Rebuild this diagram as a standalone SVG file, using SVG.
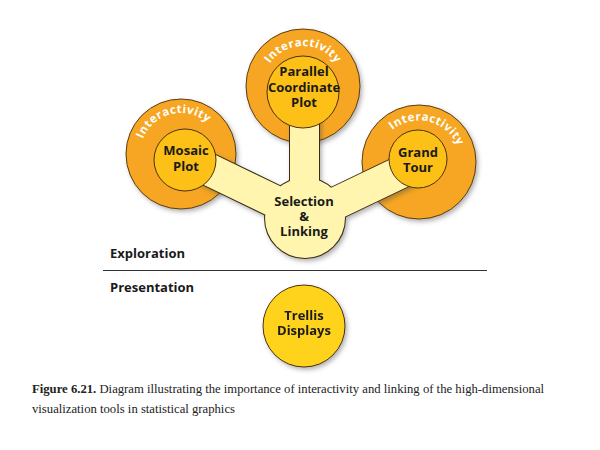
<svg xmlns="http://www.w3.org/2000/svg" width="600" height="450" viewBox="0 0 600 450">
<defs>
<style>
.ring{fill:#F6A623;stroke:#5a3d12;stroke-width:1}
.inner{fill:#FCC016;stroke:#4a3210;stroke-width:1}
.trellis{fill:#FFD21C;stroke:#4a3210;stroke-width:1}
.link-s{fill:#FFF5AE;stroke:#3b2c14;stroke-width:2}
.link-f{fill:#FFF5AE;stroke:none}
.lbl{font-family:"Open Sans","Noto Sans",sans-serif;font-weight:700;font-size:13px;fill:#1a1a1a;text-anchor:middle}
.inter{font-family:"Open Sans","Noto Sans",sans-serif;font-weight:700;font-size:11.5px;fill:#ffffff;letter-spacing:0.5px}
.sec{font-family:"Open Sans","Noto Sans",sans-serif;font-weight:700;font-size:13px;fill:#1a1a1a}
.cap{font-family:"Liberation Serif","Times New Roman",serif;font-size:12.7px;fill:#222}
</style>
<filter id="sh" x="-20%" y="-20%" width="150%" height="150%">
<feDropShadow dx="2" dy="2.5" stdDeviation="2" flood-color="#444" flood-opacity="0.4"/>
</filter>
<path id="arcTop" d="M 263 86 A 40 40 0 0 1 343 86"/>
<path id="arcLeft" d="M 141.2 163.9 A 41 41 0 0 1 220.8 144.1"/>
<path id="arcRight" d="M 378.25 151.84 A 42 42 0 0 1 459.75 172.16"/>
</defs>
<rect width="600" height="450" fill="#ffffff"/>

<g id="ring-parallel" filter="url(#sh)">
<circle class="ring" cx="303" cy="86" r="57"/>
</g>
<g id="ring-mosaic" filter="url(#sh)">
<circle class="ring" cx="181" cy="154" r="55"/>
</g>
<g id="ring-grandtour" filter="url(#sh)">
<circle class="ring" cx="419" cy="162" r="57"/>
</g>
<g id="ring-labels">
<text class="inter"><textPath href="#arcTop" startOffset="50%" text-anchor="middle">Interactivity</textPath></text>
<text class="inter"><textPath href="#arcLeft" startOffset="50%" text-anchor="middle">Interactivity</textPath></text>
<text class="inter"><textPath href="#arcRight" startOffset="50%" text-anchor="middle">Interactivity</textPath></text>
</g>

<g id="connectors" filter="url(#sh)">
<polygon class="link-s" points="192,143.6 312,201.6 298,230.4 178,172.4"/>
<polygon class="link-s" points="411.1,149.6 298.1,203.6 311.9,232.4 424.9,178.4"/>
<rect class="link-s" x="290" y="100" width="29" height="115"/>
<circle class="link-s" cx="305" cy="218" r="40"/>
<polygon class="link-f" points="192,143.6 312,201.6 298,230.4 178,172.4"/>
<polygon class="link-f" points="411.1,149.6 298.1,203.6 311.9,232.4 424.9,178.4"/>
<rect class="link-f" x="290" y="100" width="29" height="115"/>
<circle class="link-f" cx="305" cy="218" r="40"/>
</g>

<g id="node-parallel">
<circle class="inner" cx="303" cy="92" r="36"/>
<text class="lbl" x="304" y="76">Parallel</text>
<text class="lbl" x="304" y="91.5">Coordinate</text>
<text class="lbl" x="304" y="107">Plot</text>
</g>
<g id="node-mosaic">
<circle class="inner" cx="185" cy="160" r="31"/>
<text class="lbl" x="186" y="155">Mosaic</text>
<text class="lbl" x="186" y="171">Plot</text>
</g>
<g id="node-grandtour">
<circle class="inner" cx="418" cy="159" r="29"/>
<text class="lbl" x="418" y="157">Grand</text>
<text class="lbl" x="418" y="172">Tour</text>
</g>
<g id="node-selection">
<text class="lbl" x="304" y="206">Selection</text>
<text class="lbl" x="304" y="221">&amp;</text>
<text class="lbl" x="304" y="236">Linking</text>
</g>

<g id="sections">
<text class="sec" x="110" y="258">Exploration</text>
<line x1="103" y1="270.5" x2="487" y2="270.5" stroke="#333" stroke-width="1.2"/>
<text class="sec" x="110" y="292">Presentation</text>
</g>

<g id="node-trellis" filter="url(#sh)">
<circle class="trellis" cx="304" cy="326" r="41"/>
<text class="lbl" x="304" y="320">Trellis</text>
<text class="lbl" x="304" y="335">Displays</text>
</g>

<g id="caption">
<text class="cap" x="32" y="393"><tspan font-weight="700">Figure 6.21.</tspan> Diagram illustrating the importance of interactivity and linking of the high-dimensional</text>
<text class="cap" x="32" y="413">visualization tools in statistical graphics</text>
</g>
</svg>
